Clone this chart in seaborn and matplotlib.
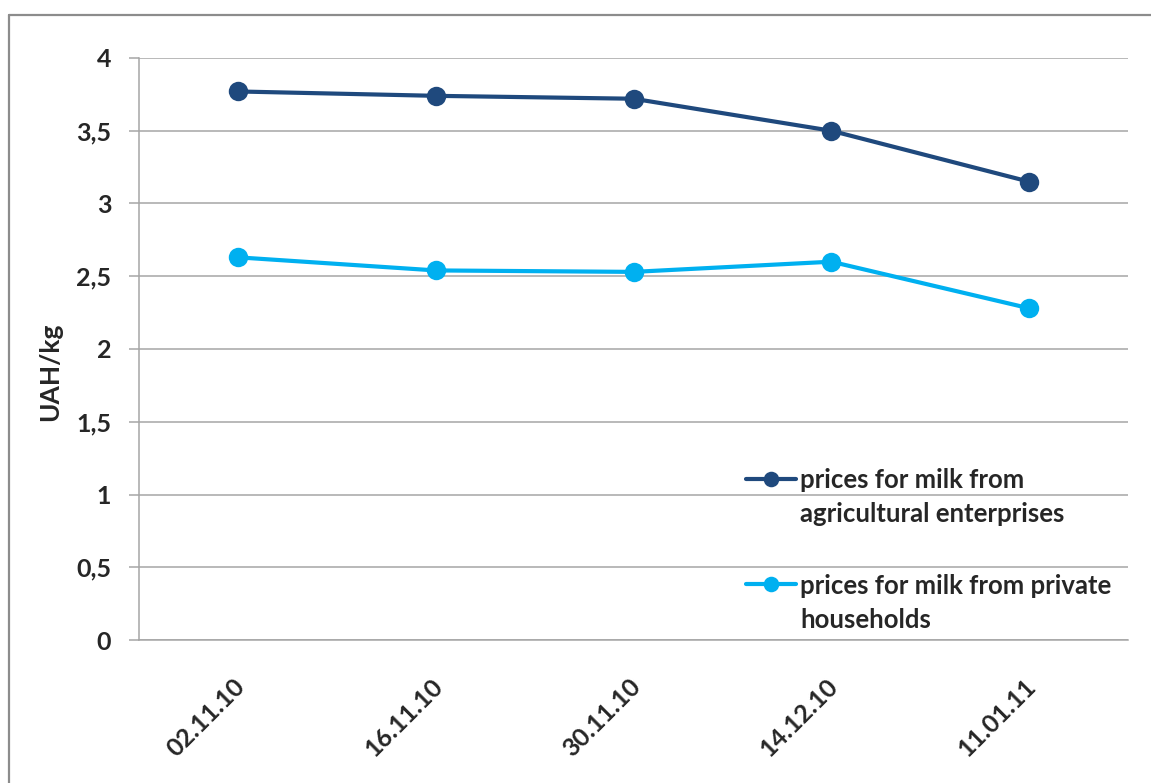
import numpy as np
import pandas as pd
import matplotlib
matplotlib.use("Agg")
import matplotlib.pyplot as plt
import matplotlib.transforms as mtransforms
import seaborn as sns
from matplotlib.legend_handler import HandlerLine2D
from matplotlib.lines import Line2D

# ---- data ----
dates = ["02.11.10", "16.11.10", "30.11.10", "14.12.10", "11.01.11"]
enterprises = [3.77, 3.74, 3.72, 3.50, 3.15]
households = [2.63, 2.54, 2.53, 2.60, 2.28]
series_names = ["prices for milk from\nagricultural enterprises",
                "prices for milk from private\nhouseholds"]
y_ticks = [0, 0.5, 1, 1.5, 2, 2.5, 3, 3.5, 4]
y_tick_labels = ["0", "0,5", "1", "1,5", "2", "2,5", "3", "3,5", "4"]
y_label = "UAH/kg"
colors = ["#1F497D", "#00B0F0"]

sns.set_theme(style="white")
plt.rcParams["font.family"] = ["Lato", "DejaVu Sans"]
plt.rcParams["font.weight"] = "bold"

W, H = 1151, 783
fig = plt.figure(figsize=(W / 100, H / 100), dpi=100)
fig.patch.set_facecolor("white")
ax = fig.add_axes([139 / W, 143 / H, 989 / W, 582 / H])

df = pd.DataFrame({
    "date": dates * 2,
    "price": enterprises + households,
    "series": [series_names[0]] * len(dates) + [series_names[1]] * len(dates),
})
sns.lineplot(data=df, x="date", y="price", hue="series", palette=colors,
             marker="o", markersize=14, markeredgewidth=0, linewidth=3,
             sort=False, ax=ax)

ax.set_xlim(-0.5, len(dates) - 0.5)
ax.set_ylim(0, 4)
ax.set_yticks(y_ticks)
ax.set_yticklabels(y_tick_labels)
ax.set_xlabel("")
ax.set_ylabel(y_label, fontsize=19, fontweight="bold")
ax.yaxis.set_label_coords(-0.078, 0.46)

gray = "#a6a6a6"
ax.yaxis.grid(True, color=gray, linewidth=1.1)
ax.xaxis.grid(False)
ax.set_axisbelow(True)
for s in ["top", "right"]:
    ax.spines[s].set_visible(False)
for s in ["left", "bottom"]:
    ax.spines[s].set_color(gray)
    ax.spines[s].set_linewidth(1.1)

ax.tick_params(axis="y", which="both", left=True, length=7, width=1.1,
               color=gray, labelsize=18, pad=13)
ax.tick_params(axis="x", bottom=False, labelsize=18, pad=25)
for lab in ax.get_yticklabels():
    lab.set_fontweight("bold")
shift = mtransforms.ScaledTranslation(3 / 100, 0, fig.dpi_scale_trans)
for lab in ax.get_xticklabels():
    lab.set_fontweight("bold")
    lab.set_rotation(45)
    lab.set_ha("right")
    lab.set_va("center")
    lab.set_rotation_mode("anchor")
    lab.set_transform(lab.get_transform() + shift)


class FirstLineHandler(HandlerLine2D):
    def __init__(self, dy, **kw):
        super().__init__(**kw)
        self.dy = dy

    def create_artists(self, legend, orig_handle, xdescent, ydescent,
                       width, height, fontsize, trans):
        arts = super().create_artists(legend, orig_handle, xdescent, ydescent,
                                      width, height, fontsize, trans)
        for a in arts:
            a.set_ydata(np.asarray(a.get_ydata(), dtype=float) + self.dy)
        return arts


handles, labels = ax.get_legend_handles_labels()
if ax.get_legend() is not None:
    ax.get_legend().remove()
leg = ax.legend(handles, labels, loc="upper left",
                bbox_to_anchor=(0.614, 0.295), frameon=False,
                prop={"size": 18.5, "weight": "bold"},
                handlelength=1.95, handletextpad=0.15, labelspacing=1.85,
                borderpad=0, borderaxespad=0, markerscale=0.8,
                handler_map={Line2D: FirstLineHandler(dy=14)})
for t in leg.get_texts():
    t.set_linespacing(1.5)

# outer chart border (Excel-style)
fig.add_artist(Line2D([9 / W, 9 / W], [0, 1 - 15 / H], transform=fig.transFigure,
                      color="#8c8c8c", linewidth=1.6))
fig.add_artist(Line2D([9 / W, 1], [1 - 15 / H, 1 - 15 / H], transform=fig.transFigure,
                      color="#8c8c8c", linewidth=1.6))

fig.savefig("out.png", dpi=100, facecolor="white")
